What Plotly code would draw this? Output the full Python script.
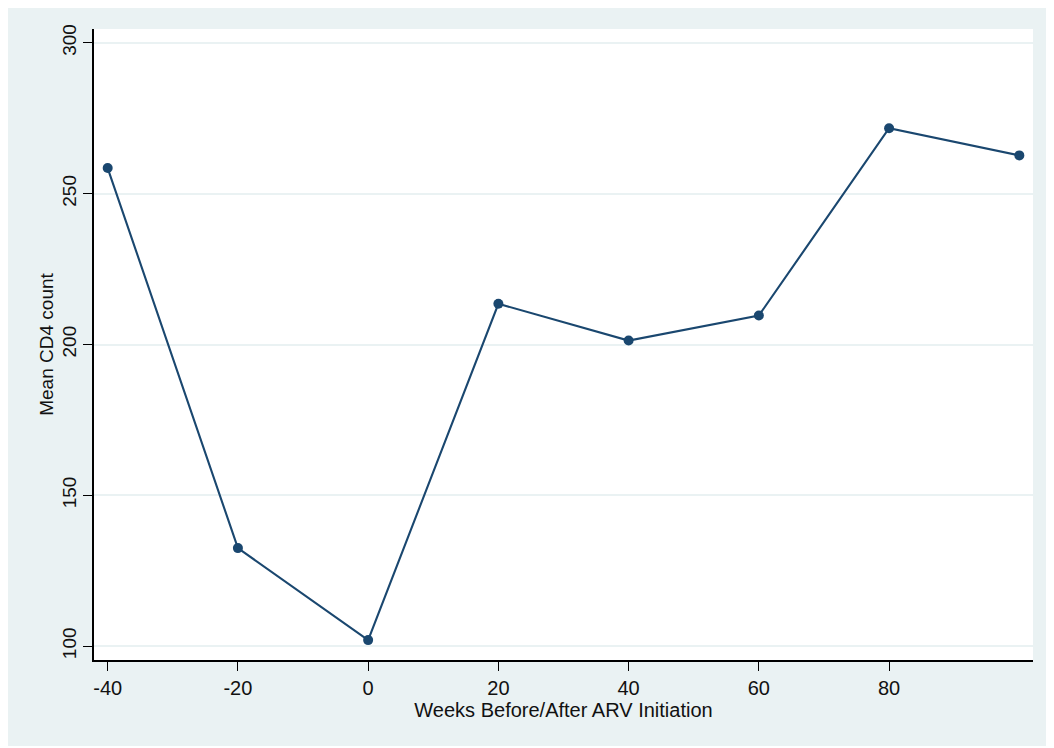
import plotly.graph_objects as go

weeks = [-40, -20, 0, 20, 40, 60, 80, 100]
mean_cd4 = [258.5, 132.5, 102.0, 213.5, 201.3, 209.6, 271.7, 262.7]
x_ticks = [-40, -20, 0, 20, 40, 60, 80]
x_tick_labels = ["-40", "-20", "0", "20", "40", "60", "80"]
y_ticks = [100, 150, 200, 250, 300]

# the page body adds an 8px margin, so the figure is drawn 8px in from the corner
OFF = 8
W, H = 1054 - OFF, 748 - OFF
L, T = 94 - OFF, 29 - OFF
R = W - (1033 - OFF)
B = H - (660 - OFF)
pw, ph = W - L - R, H - T - B

def px_to_paper_x(px):
    return (px - OFF - L) / pw

def py_to_paper_y(py):
    return 1 - (py - OFF - T) / ph

navy = "#1A476F"
bg = "#EAF2F3"
font = "Liberation Sans, Arial, sans-serif"

fig = go.Figure()
fig.add_trace(go.Scatter(
    x=weeks, y=mean_cd4, mode="lines+markers",
    line=dict(color=navy, width=2.1),
    marker=dict(color=navy, size=10),
    showlegend=False,
))

fig.add_shape(type="rect", xref="paper", yref="paper", layer="below",
              x0=px_to_paper_x(OFF), x1=px_to_paper_x(1050),
              y0=py_to_paper_y(746), y1=py_to_paper_y(OFF),
              fillcolor=bg, line=dict(width=0))
fig.add_shape(type="rect", xref="paper", yref="paper", layer="below",
              x0=0, x1=1, y0=0, y1=1,
              fillcolor="white", line=dict(width=0))

fig.update_layout(
    width=W, height=H,
    margin=dict(l=L, r=R, t=T, b=B),
    paper_bgcolor="white",
    plot_bgcolor="rgba(0,0,0,0)",
    font=dict(family=font, size=19, color="#111111"),
)
fig.update_xaxes(
    range=[-42.1, 102.1], tickvals=x_ticks, ticktext=x_tick_labels,
    showgrid=False, zeroline=False,
    showline=True, linecolor="black", linewidth=1.5,
    ticks="outside", ticklen=9, tickwidth=1.2, tickcolor="black",
    tickfont=dict(size=20),
    title=dict(text="Weeks Before/After ARV Initiation", font=dict(size=20), standoff=0),
)
fig.update_yaxes(
    range=[95.4, 304.6], tickvals=y_ticks,
    showgrid=True, gridcolor=bg, gridwidth=1.5, zeroline=False,
    showline=True, linecolor="black", linewidth=1.5,
    ticks="outside", ticklen=9, tickwidth=1.2, tickcolor="black",
    tickangle=-90, tickfont=dict(size=19), ticklabelstandoff=0,
    title=dict(text="Mean CD4 count", font=dict(size=19), standoff=0),
)

fig.write_html("out.html")
